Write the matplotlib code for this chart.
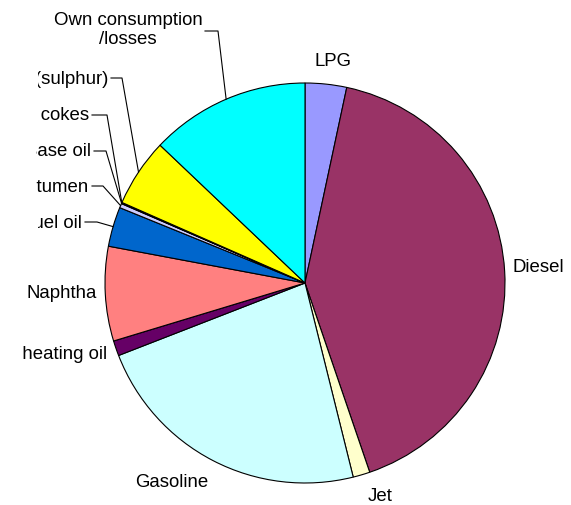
"""Refinery output shares - pie chart."""

import matplotlib
matplotlib.use("Agg")
import matplotlib.pyplot as plt
import numpy as np
from matplotlib.transforms import Bbox, TransformedBbox

# ---------------------------------------------------------------------------
# Data (shares in %, clockwise from 12 o'clock)
# ---------------------------------------------------------------------------
LABELS = ["LPG", "Diesel", "Jet", "Gasoline", "Light heating oil", "Naphtha",
          "Fuel oil", "Bitumen", "Base oil", "Petroleum cokes",
          "Others (sulphur)", "Own consumption\n/losses"]
SHARES = [3.35, 41.4, 1.37, 22.97, 1.22, 7.63, 3.2, 0.35, 0.05, 0.05, 5.5, 12.9]
COLORS = ["#9999FF", "#993366", "#FFFFCC", "#CCFFFF", "#660066", "#FF8080",
          "#0066CC", "#CCCCFF", "#000080", "#FF00FF", "#FFFF00", "#00FFFF"]

# label placement in figure pixels (x, y from top), alignment, leader elbow, clip
W, H = 571, 506
CX, CY, R = 305, 284, 200
LABEL_POS = [
    (333, 62, "center", None, None),
    (513, 268, "left", None, None),
    (380, 497, "center", None, None),
    (172, 483, "center", None, None),
    (107, 355, "right", None, 20),
    (97, 294, "right", None, None),
    (82, 223, "right", 97, 38),
    (89, 187, "right", 103, 36),
    (91, 152, "right", 106, 36),
    (89, 116, "right", 107, 40),
    (108, 79, "right", 122, 38),
    (128, 30, "center", 218, None),
]

plt.rcParams["font.family"] = ["Liberation Sans", "DejaVu Sans"]


def to_data(px, py):
    return (px - CX) / R, (CY - py) / R


def main() -> None:
    fig = plt.figure(figsize=(W / 100, H / 100), dpi=100)
    ax = fig.add_axes([(CX - R) / W, (H - CY - R) / H, 2 * R / W, 2 * R / H])
    wedges, _ = ax.pie(SHARES, colors=COLORS, startangle=90, counterclock=False,
                       radius=1.0,
                       wedgeprops=dict(edgecolor="black", linewidth=0.8))
    ax.set_xlim(-1, 1)
    ax.set_ylim(-1, 1)
    ax.set_aspect("equal")
    ax.axis("off")

    for wedge, label, (px, py, ha, elbow, clip) in zip(wedges, LABELS, LABEL_POS):
        x, y = to_data(px, py)
        t = ax.text(x, y, label, ha=ha, va="center", fontsize=13.4,
                    multialignment="center", linespacing=1.12, color="black")
        if clip is not None:
            # labels in the original are cut at the chart's left border
            box = TransformedBbox(Bbox([[clip / W, 0], [1, 1]]), fig.transFigure)
            t.set_clip_box(box)
            t.set_clip_on(True)
        else:
            t.set_clip_on(False)
        if elbow is not None:
            mid = np.deg2rad((wedge.theta1 + wedge.theta2) / 2)
            ex, ey = np.cos(mid), np.sin(mid)
            if "Own" in label:
                sx, sy = to_data(px + 77, 32)
            else:
                sx, sy = to_data(px + 3, py)
            bx, _ = to_data(elbow, py)
            ax.plot([sx, bx, ex], [sy, sy, ey], color="black", lw=0.8,
                    clip_on=False)

    fig.savefig("out.png", dpi=100)
    plt.close(fig)


if __name__ == "__main__":
    main()
